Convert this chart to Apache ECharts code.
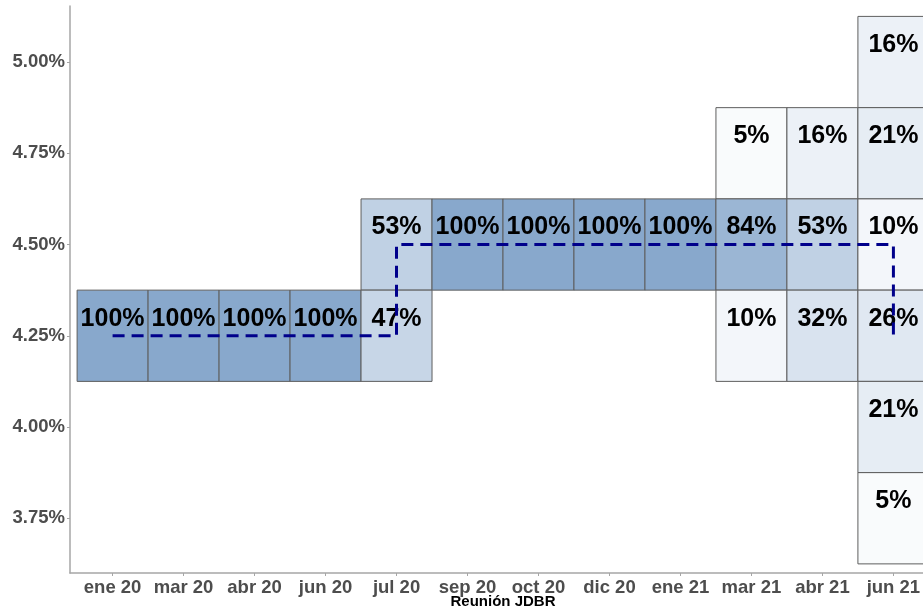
<!DOCTYPE html>
<html>
<head>
<meta charset="utf-8">
<script src="https://cdn.jsdelivr.net/npm/echarts@6/dist/echarts.min.js"></script>
<style>
  html, body { margin: 0; padding: 0; background: #fff; }
  #chart { width: 923px; height: 611px; }
</style>
</head>
<body>
<div id="chart"></div>
<script>
// meetings on the x axis
var meetings = ['ene 20', 'mar 20', 'abr 20', 'jun 20', 'jul 20', 'sep 20',
                'oct 20', 'dic 20', 'ene 21', 'mar 21', 'abr 21', 'jun 21'];

// one entry per tile: meeting index, rate (%), share of answers (%)
var tileMeeting = [0, 1, 2, 3, 4, 4, 5, 6, 7, 8, 9, 9, 9, 10, 10, 10, 11, 11, 11, 11, 11, 11];
var tileRate    = [4.25, 4.25, 4.25, 4.25, 4.50, 4.25, 4.50, 4.50, 4.50, 4.50,
                   4.75, 4.50, 4.25, 4.75, 4.50, 4.25, 5.00, 4.75, 4.50, 4.25, 4.00, 3.75];
var tilePct     = [100, 100, 100, 100, 53, 47, 100, 100, 100, 100,
                   5, 84, 10, 16, 53, 32, 16, 21, 10, 26, 21, 5];

// policy rate (dashed step line)
var policyRate = [4.25, 4.25, 4.25, 4.25, 4.50, 4.50, 4.50, 4.50, 4.50, 4.50, 4.50, 4.25];

var yTicks = [3.75, 4.00, 4.25, 4.50, 4.75, 5.00];

var tiles = [];
for (var i = 0; i < tileMeeting.length; i++) {
    tiles.push([tileMeeting[i], tileRate[i], tilePct[i]]);
}
var lineData = [];
for (var j = 0; j < policyRate.length; j++) {
    lineData.push([j, policyRate[j]]);
}
var xTicks = [];
for (var k = 0; k < meetings.length; k++) xTicks.push(k);

function renderTile(params, api) {
    var x = api.value(0), y = api.value(1);
    var p0 = api.coord([x - 0.5, y + 0.125]);
    var p1 = api.coord([x + 0.5, y - 0.125]);
    var c = api.coord([x, y]);
    return {
        type: 'group',
        children: [
            {
                type: 'rect',
                shape: { x: p0[0], y: p0[1], width: p1[0] - p0[0], height: p1[1] - p0[1] },
                style: { fill: api.visual('color'), stroke: '#5e5e5e', lineWidth: 1 }
            },
            {
                type: 'text',
                style: {
                    text: api.value(2) + '%',
                    x: c[0], y: c[1] - 17,
                    align: 'center', verticalAlign: 'middle',
                    font: 'bold 25px "Liberation Sans", Arial, sans-serif',
                    fill: '#000'
                }
            }
        ]
    };
}

var chartDom = document.getElementById('chart');
var myChart = echarts.init(chartDom);
var option = {
    backgroundColor: '#fff',
    animation: false,
    grid: { left: 70, top: 6, width: 866, height: 567, containLabel: false, outerBoundsMode: 'none' },
    visualMap: {
        show: false,
        dimension: 2,
        seriesIndex: 0,
        min: 0,
        max: 100,
        inRange: { color: ['#ffffff', '#88a8cc'] }
    },
    xAxis: {
        type: 'value',
        min: -0.6,
        max: 11.6,
        name: 'Reunión JDBR',
        nameLocation: 'middle',
        nameGap: 21,
        nameMoveOverlap: false,
        nameTextStyle: { fontFamily: 'Liberation Sans', fontWeight: 'bold', fontSize: 15, color: '#000' },
        splitLine: { show: false },
        axisLine: { show: true, onZero: false, lineStyle: { color: '#a6a6a6', width: 1.5 } },
        axisTick: { show: true, length: 3, customValues: xTicks, lineStyle: { color: '#a6a6a6' } },
        axisLabel: {
            customValues: xTicks,
            margin: 5,
            fontFamily: 'Liberation Sans',
            fontWeight: 'bold',
            fontSize: 18.5,
            color: '#4d4d4d',
            formatter: function (v) { return meetings[Math.round(v)]; }
        }
    },
    yAxis: {
        type: 'value',
        min: 3.60,
        max: 5.1535,
        splitLine: { show: false },
        axisLine: { show: true, onZero: false, lineStyle: { color: '#a6a6a6', width: 1.5 } },
        axisTick: { show: true, length: 3, customValues: yTicks, lineStyle: { color: '#a6a6a6' } },
        axisLabel: {
            customValues: yTicks,
            margin: 5,
            fontFamily: 'Liberation Sans',
            fontWeight: 'bold',
            fontSize: 18.5,
            color: '#4d4d4d',
            formatter: function (v) { return v.toFixed(2) + '%'; }
        }
    },
    series: [
        {
            type: 'custom',
            renderItem: renderTile,
            encode: { x: 0, y: 1 },
            data: tiles,
            z: 2
        },
        {
            type: 'line',
            step: 'end',
            data: lineData,
            showSymbol: false,
            symbol: 'none',
            lineStyle: { color: '#00008b', width: 3, type: [12, 7] },
            z: 5
        }
    ]
};
myChart.setOption(option);
</script>
</body>
</html>
